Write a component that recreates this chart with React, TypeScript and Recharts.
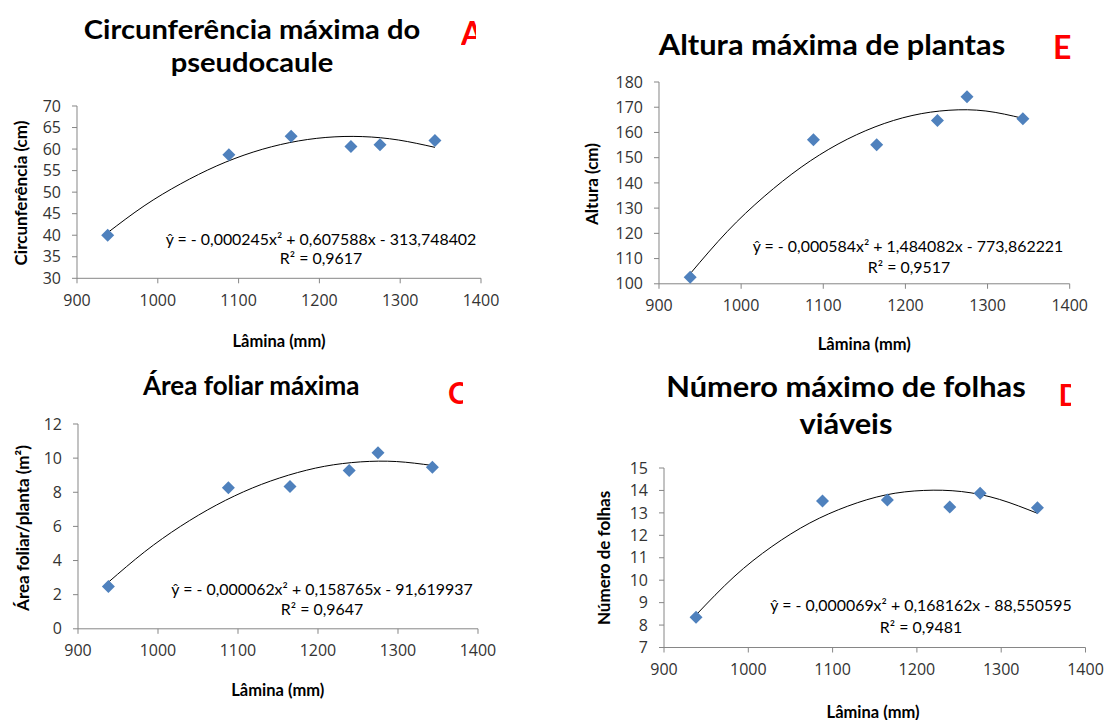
import React from 'react';
import { ScatterChart, Scatter, XAxis, YAxis } from 'recharts';

// Lâmina (mm) on the x axis, shared by all four panels
const laminaTicks = [900, 1000, 1100, 1200, 1300, 1400];
const laminaMm = [938, 1088, 1165, 1239, 1275, 1343];

// observed values (diamonds)
const circunferencia = [40.0, 58.7, 63.0, 60.6, 61.0, 62.0];
const altura = [102.6, 157.1, 155.1, 164.7, 174.2, 165.4];
const areaFoliar = [2.48, 8.27, 8.34, 9.27, 10.31, 9.47];
const numeroFolhas = [8.35, 13.53, 13.57, 13.26, 13.87, 13.23];

// trend lines (evenly spaced in x)
const curveX = [938, 983, 1028, 1073, 1118, 1163, 1208, 1253, 1298, 1343];
const circunferenciaCurve = [40.6, 46.8, 51.9, 56.1, 59.3, 61.5, 62.7, 62.9, 62.1, 60.4];
const alturaCurve = [104.0, 120.7, 134.6, 146.2, 155.4, 162.2, 166.7, 168.8, 168.5, 165.6];
const areaCurve = [2.73, 4.5, 6.0, 7.25, 8.25, 9.0, 9.52, 9.78, 9.8, 9.57];
const folhasCurve = [8.45, 10.15, 11.5, 12.55, 13.3, 13.8, 14.0, 13.95, 13.6, 12.98];

// y ticks
const circTicks = [30, 35, 40, 45, 50, 55, 60, 65, 70];
const alturaTicks = [100, 110, 120, 130, 140, 150, 160, 170, 180];
const areaTicks = [0, 2, 4, 6, 8, 10, 12];
const folhasTicks = [7, 8, 9, 10, 11, 12, 13, 14, 15];

const toPoints = (xs: number[], ys: number[]) => xs.map((x, i) => ({ x, y: ys[i] }));

const TITLE_FONT = 'Lato, "Open Sans", sans-serif';
const TICK_FONT = '"Open Sans", Lato, sans-serif';
const BLUE = '#4F81BD';
const AXIS = '#868686';

function Diamond(props: any) {
  const { cx, cy } = props;
  if (cx == null || cy == null) return null;
  const r = 6.5;
  return <polygon points={`${cx},${cy - r} ${cx + r},${cy} ${cx},${cy + r} ${cx - r},${cy}`} fill={BLUE} />;
}

const NoShape = () => <g />;

interface Plot {
  left: number;
  top: number;
  right: number;
  bottom: number;
}

function Panel({ plot, yTicks, points, curve }: { plot: Plot; yTicks: number[]; points: any[]; curve: any[] }) {
  const yAxisW = 70;
  const boxX = plot.left - yAxisW;
  const boxY = plot.top - 12;
  const width = plot.right - boxX + 30;
  const height = plot.bottom - boxY + 40;
  return (
    <div style={{ position: 'absolute', left: boxX, top: boxY }}>
      <ScatterChart width={width} height={height} margin={{ top: 12, right: 30, bottom: 0, left: 0 }}>
        <XAxis
          type="number"
          dataKey="x"
          domain={[900, 1400]}
          ticks={laminaTicks}
          interval={0}
          height={40}
          axisLine={{ stroke: AXIS }}
          tickLine={{ stroke: AXIS }}
          tickSize={5}
          tickMargin={11}
          tick={{ fill: '#333', fontSize: 16, fontFamily: TICK_FONT }}
        />
        <YAxis
          type="number"
          dataKey="y"
          domain={[yTicks[0], yTicks[yTicks.length - 1]]}
          ticks={yTicks}
          interval={0}
          width={yAxisW}
          axisLine={{ stroke: AXIS }}
          tickLine={{ stroke: AXIS }}
          tickSize={5}
          tickMargin={11}
          tick={{ fill: '#333', fontSize: 16, fontFamily: TICK_FONT }}
        />
        <Scatter
          data={curve}
          line={{ stroke: '#000', strokeWidth: 1 }}
          lineJointType="natural"
          shape={NoShape}
          isAnimationActive={false}
        />
        <Scatter data={points} shape={Diamond} isAnimationActive={false} />
      </ScatterChart>
    </div>
  );
}

function Txt({ x, y, size, bold, children, rotate, stretch }: any) {
  const rot = rotate ? ' rotate(-90deg)' : '';
  const sx = stretch ? ` scaleX(${stretch})` : '';
  return (
    <div
      style={{
        position: 'absolute',
        left: x,
        top: y,
        transform: `translate(-50%, -50%)${rot}${sx}`,
        whiteSpace: 'nowrap',
        fontFamily: TITLE_FONT,
        fontSize: size,
        fontWeight: bold ? 700 : 400,
        lineHeight: 1,
        color: '#000',
      }}
    >
      {children}
    </div>
  );
}

// red panel letters; the reference cuts some of them off at the right
function Letter({ x, y, clip, size, children }: any) {
  return (
    <div
      style={{
        position: 'absolute',
        left: x,
        top: y,
        width: clip,
        height: clip ? size * 1.1 : undefined,
        overflow: clip ? 'hidden' : 'visible',
        fontFamily: TITLE_FONT,
        fontWeight: 700,
        fontSize: size,
        lineHeight: 1,
        color: '#FF0000',
        whiteSpace: 'nowrap',
      }}
    >
      {children}
    </div>
  );
}

export default function App() {
  return (
    <div style={{ position: 'absolute', left: 0, top: 0, width: 1106, height: 720, background: '#fff', overflow: 'hidden' }}>
      {/* A */}
      <Panel
        plot={{ left: 77, top: 106, right: 481, bottom: 278.3 }}
        yTicks={circTicks}
        points={toPoints(laminaMm, circunferencia)}
        curve={toPoints(curveX, circunferenciaCurve)}
      />
      <Txt x={252} y={29} size={26} bold stretch={1.12}>Circunferência máxima do</Txt>
      <Txt x={252} y={61.5} size={26} bold stretch={1.12}>pseudocaule</Txt>
      <Letter x={461} y={17} clip={15} size={32}>A</Letter>
      <Txt x={320.5} y={239} size={15} stretch={1.06}>ŷ = - 0,000245x² + 0,607588x - 313,748402</Txt>
      <Txt x={320.8} y={258.3} size={15} stretch={1.06}>R² = 0,9617</Txt>
      <Txt x={20} y={192.5} size={17} bold rotate>Circunferência (cm)</Txt>
      <Txt x={279} y={340.7} size={16.5} bold>Lâmina (mm)</Txt>

      {/* E */}
      <Panel
        plot={{ left: 659.3, top: 81.5, right: 1070, bottom: 283.3 }}
        yTicks={alturaTicks}
        points={toPoints(laminaMm, altura)}
        curve={toPoints(curveX, alturaCurve)}
      />
      <Txt x={832} y={44} size={28} bold stretch={1.1}>Altura máxima de plantas</Txt>
      <Letter x={1053} y={31} size={32}>E</Letter>
      <Txt x={908.3} y={246.1} size={15} stretch={1.06}>ŷ = - 0,000584x² + 1,484082x - 773,862221</Txt>
      <Txt x={909} y={266.7} size={15} stretch={1.06}>R² = 0,9517</Txt>
      <Txt x={591.3} y={183.6} size={17} bold rotate>Altura (cm)</Txt>
      <Txt x={864.3} y={343.9} size={16.5} bold>Lâmina (mm)</Txt>

      {/* C */}
      <Panel
        plot={{ left: 77.7, top: 423.5, right: 477.7, bottom: 628.3 }}
        yTicks={areaTicks}
        points={toPoints(laminaMm, areaFoliar)}
        curve={toPoints(curveX, areaCurve)}
      />
      <Txt x={251.2} y={385} size={26} bold>Área foliar máxima</Txt>
      <Letter x={448} y={377} clip={15} size={30}>C</Letter>
      <Txt x={321.7} y={588.7} size={15} stretch={1.06}>ŷ = - 0,000062x² + 0,158765x - 91,619937</Txt>
      <Txt x={322} y={609.3} size={15} stretch={1.06}>R² = 0,9647</Txt>
      <Txt x={21.7} y={527.8} size={17} bold rotate>Área foliar/planta (m²)</Txt>
      <Txt x={277.8} y={690} size={16.5} bold>Lâmina (mm)</Txt>

      {/* D */}
      <Panel
        plot={{ left: 663.5, top: 468, right: 1085, bottom: 647.5 }}
        yTicks={folhasTicks}
        points={toPoints(laminaMm, numeroFolhas)}
        curve={toPoints(curveX, folhasCurve)}
      />
      <Txt x={846.4} y={386} size={28} bold stretch={1.1}>Número máximo de folhas</Txt>
      <Txt x={846.4} y={423} size={28} bold stretch={1.1}>viáveis</Txt>
      <Letter x={1058.5} y={379} clip={12.5} size={30}>D</Letter>
      <Txt x={921.4} y={605.2} size={15} stretch={1.06}>ŷ = - 0,000069x² + 0,168162x - 88,550595</Txt>
      <Txt x={921.4} y={626.8} size={15} stretch={1.06}>R² = 0,9481</Txt>
      <Txt x={603.4} y={557.7} size={17} bold rotate>Número de folhas</Txt>
      <Txt x={873.1} y={711.7} size={16.5} bold>Lâmina (mm)</Txt>
    </div>
  );
}
